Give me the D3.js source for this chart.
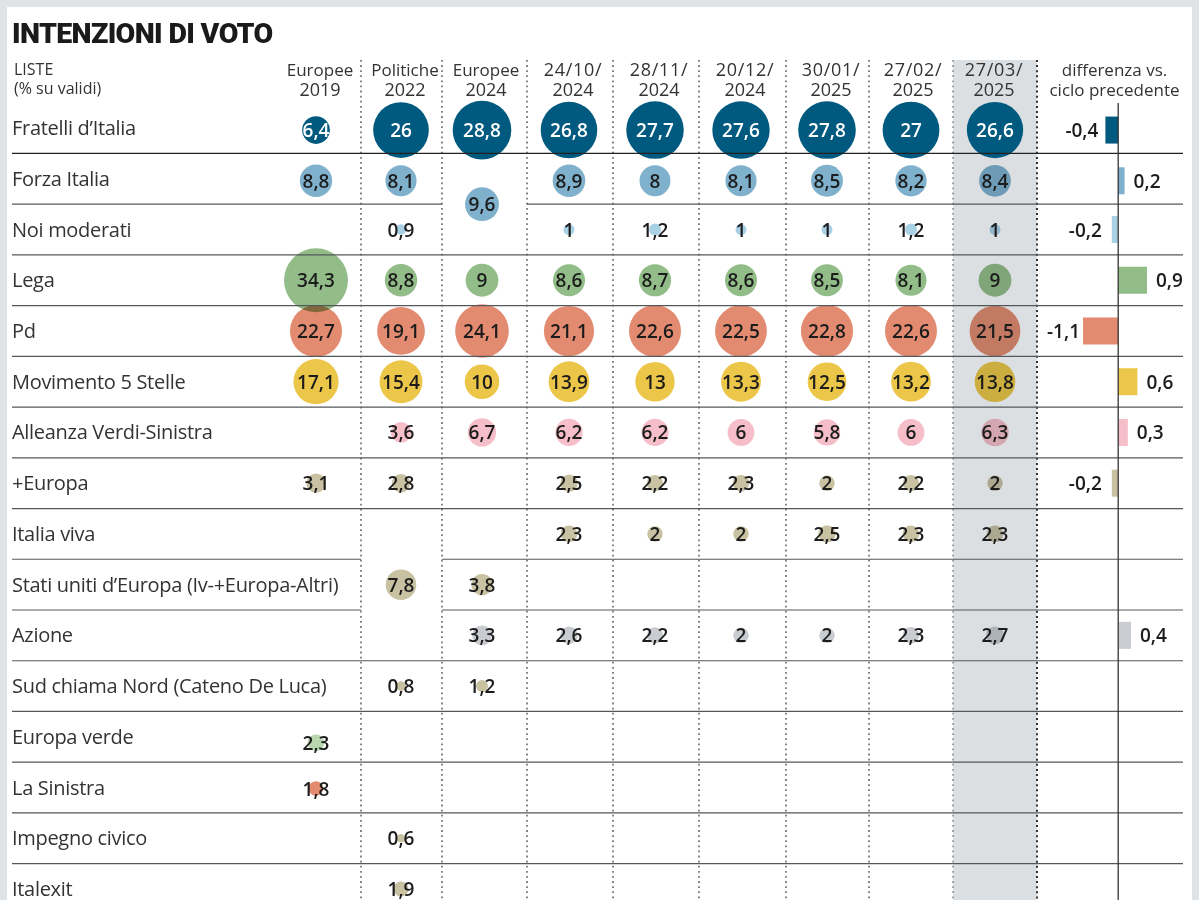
<!DOCTYPE html>
<html>
<head>
<meta charset="utf-8">
<script src="https://cdn.jsdelivr.net/npm/d3@7"></script>
<style>
  html, body { margin: 0; padding: 0; background: #fff; overflow: hidden; }
  svg { display: block; font-family: "Open Sans", sans-serif; }
</style>
</head>
<body>
<script>
var width = 1200;
var height = 900;

// data
var columns = ["Europee 2019", "Politiche 2022", "Europee 2024", "24/10/ 2024", "28/11/ 2024",
               "20/12/ 2024", "30/01/ 2025", "27/02/ 2025", "27/03/ 2025"];

var lists = ["Fratelli d’Italia", "Forza Italia", "Noi moderati", "Lega", "Pd", "Movimento 5 Stelle",
             "Alleanza Verdi-Sinistra", "+Europa", "Italia viva", "Stati uniti d’Europa (Iv-+Europa-Altri)",
             "Azione", "Sud chiama Nord (Cateno De Luca)", "Europa verde", "La Sinistra", "Impegno civico", "Italexit"];

var fdi     = [6.4, 26, 28.8, 26.8, 27.7, 27.6, 27.8, 27, 26.6];
var fi      = [8.8, 8.1, null, 8.9, 8, 8.1, 8.5, 8.2, 8.4];
var noi     = [null, 0.9, null, 1, 1.2, 1, 1, 1.2, 1];
var lega    = [34.3, 8.8, 9, 8.6, 8.7, 8.6, 8.5, 8.1, 9];
var pd      = [22.7, 19.1, 24.1, 21.1, 22.6, 22.5, 22.8, 22.6, 21.5];
var m5s     = [17.1, 15.4, 10, 13.9, 13, 13.3, 12.5, 13.2, 13.8];
var avs     = [null, 3.6, 6.7, 6.2, 6.2, 6, 5.8, 6, 6.3];
var europa  = [3.1, 2.8, null, 2.5, 2.2, 2.3, 2, 2.2, 2];
var iv      = [null, null, null, 2.3, 2, 2, 2.5, 2.3, 2.3];
var sue     = [null, null, 3.8, null, null, null, null, null, null];
var azione  = [null, null, 3.3, 2.6, 2.2, 2, 2, 2.3, 2.7];
var sud     = [null, 0.8, 1.2, null, null, null, null, null, null];
var verde   = [2.3, null, null, null, null, null, null, null, null];
var sin     = [1.8, null, null, null, null, null, null, null, null];
var civico  = [null, 0.6, null, null, null, null, null, null, null];
var italexit = [null, 1.9, null, null, null, null, null, null, null];
var table = [fdi, fi, noi, lega, pd, m5s, avs, europa, iv, sue, azione, sud, verde, sin, civico, italexit];

var differences = [-0.4, 0.2, -0.2, 0.9, -1.1, 0.6, 0.3, -0.2, null, null, 0.4, null, null, null, null, null];

// cells shared by more than one list: [first list, last list, column, value]
var mergedFirst = [1, 8];
var mergedLast = [2, 10];
var mergedColumn = [2, 1];
var mergedValue = [9.6, 7.8];
var mergedColor = ["#7fb1cc", "#c9c2a2"];

var darkBlue = "#005a7f";
var listColors = [darkBlue, "#7fb1cc", "#a9d1e6", "#93bd88", "#e28b70", "#ecc648", "#f6bec9", "#c9c2a2",
                  "#c9c2a2", "#c9c2a2", "#c9ccd0", "#c9c2a2", "#b8d6af", "#e28b70", "#c9c2a2", "#c9c2a2"];
var barColors = [darkBlue, "#7fb1cc", "#a9d1e6", "#93bd88", "#e28b70", "#ecc648", "#f6bec9", "#c9c2a2",
                 null, null, "#c9ccd0", null, null, null, null, null];

var svg = d3.select("body").append("svg")
  .attr("width", width)
  .attr("height", height);

// scales
var xScale = d3.scaleOrdinal().domain(columns).range([316, 401, 482, 569, 655, 741, 827, 911, 995]);
var xHead = d3.scaleOrdinal().domain(columns).range([320, 405, 486, 573, 659, 745, 831, 913, 994]);
var yScale = d3.scaleBand().domain(lists).range([102.7, 102.7 + 16 * 50.73]);
var rScale = d3.scaleSqrt().domain([0, 34.3]).range([0, 32]);
var barScale = d3.scaleLinear().domain([-1.1, 0.9]).range([1083, 1147]);

var rowNudge = {"Fratelli d’Italia": 2, "Forza Italia": 2, "Europa verde": 6, "La Sinistra": 1};

function rowCenter(name) {
    return yScale(name) + yScale.bandwidth() / 2;
}
function cellY(name) {
    return rowCenter(name) + (rowNudge[name] || 0);
}
function comma(v) {
    return String(v).replace(".", ",");
}

// frame
svg.append("rect").attr("x", 3.5).attr("y", 3.5).attr("width", 1192).attr("height", 1000)
  .attr("fill", "none").attr("stroke", "#e0e3e6").attr("stroke-width", 7);

// highlighted column
svg.append("rect").attr("x", 953).attr("y", 60).attr("width", 84).attr("height", 840).attr("fill", "#dcdfe2");

// title and left header
svg.append("text").attr("x", 12).attr("y", 43)
  .attr("font-family", "Roboto").attr("font-weight", 900).attr("font-size", 28.5).attr("letter-spacing", -0.65)
  .attr("fill", "#1a1a1a").text("INTENZIONI DI VOTO");
svg.append("text").attr("x", 14).attr("y", 75).attr("font-size", 16).attr("fill", "#333").text("LISTE");
svg.append("text").attr("x", 14).attr("y", 94).attr("font-size", 16).attr("fill", "#333").text("(% su validi)");

// column headers
var heads = svg.selectAll(".head").data(columns).enter().append("g").attr("class", "head");
[0, 1].forEach(function(line) {
    heads.append("text")
      .attr("x", function(d) { return xHead(d); })
      .attr("y", 76 + line * 19.7)
      .attr("text-anchor", "middle")
      .attr("font-size", function(d) { return /^[A-Z]/.test(d.split(" ")[line]) ? 17 : 18; })
      .attr("letter-spacing", function(d) { return d.split(" ")[line].indexOf("/") > -1 ? 0.7 : 0; })
      .attr("fill", "#333")
      .text(function(d) { return d.split(" ")[line]; });
});
var diffHead = ["differenza vs.", "ciclo precedente"];
svg.selectAll(".diffhead").data(diffHead).enter().append("text")
  .attr("class", "diffhead")
  .attr("x", 1114.5)
  .attr("y", function(d, i) { return 76 + i * 19.7; })
  .attr("text-anchor", "middle")
  .attr("font-size", 17)
  .attr("fill", "#333")
  .text(function(d) { return d; });

// dotted column separators
var separators = [361, 442, 527, 613, 699, 786, 869];
svg.selectAll(".sep").data(separators).enter().append("line")
  .attr("class", "sep")
  .attr("x1", function(d) { return d; })
  .attr("x2", function(d) { return d; })
  .attr("y1", 60)
  .attr("y2", height)
  .attr("stroke", "#444")
  .attr("stroke-width", 1.3)
  .attr("stroke-dasharray", "1.8 3.3");
svg.append("line").attr("x1", 953).attr("x2", 953).attr("y1", 60).attr("y2", height)
  .attr("stroke", "#777").attr("stroke-width", 1.3).attr("stroke-dasharray", "1.8 3.3");
svg.append("line").attr("x1", 1037).attr("x2", 1037).attr("y1", 60).attr("y2", height)
  .attr("stroke", "#333").attr("stroke-width", 2).attr("stroke-dasharray", "2 3.1");

// cells
var cells = [];
table.forEach(function(row, r) {
    row.forEach(function(v, c) {
        if (v != null) {
            cells.push({value: v, col: columns[c], y: cellY(lists[r]), color: listColors[r]});
        }
    });
});
mergedValue.forEach(function(v, m) {
    var y = (rowCenter(lists[mergedFirst[m]]) + rowCenter(lists[mergedLast[m]])) / 2;
    cells.push({value: v, col: columns[mergedColumn[m]], y: y, color: mergedColor[m]});
});

svg.selectAll(".dot").data(cells).enter().append("circle")
  .attr("class", "dot")
  .attr("cx", function(d) { return xScale(d.col); })
  .attr("cy", function(d) { return d.y; })
  .attr("r", function(d) { return rScale(d.value); })
  .attr("fill", function(d) { return d.color; })
  .style("mix-blend-mode", function(d) { return d.color == darkBlue ? "normal" : "multiply"; });

// row rules, with gaps where a cell is merged
var rules = [];
lists.slice(0, -1).forEach(function(name, i) {
    var y = yScale(name) + yScale.bandwidth();
    var gap = null;
    mergedFirst.forEach(function(first, m) {
        if (i >= first && i < mergedLast[m]) {
            gap = mergedColumn[m] == 2 ? [442, 527] : [361, 442];
        }
    });
    if (gap) {
        rules.push({x1: 12, x2: gap[0], y: y, i: i});
        rules.push({x1: gap[1], x2: 1183, y: y, i: i});
    } else {
        rules.push({x1: 12, x2: 1183, y: y, i: i});
    }
});
svg.selectAll(".rule").data(rules).enter().append("line")
  .attr("class", "rule")
  .attr("x1", function(d) { return d.x1; })
  .attr("x2", function(d) { return d.x2; })
  .attr("y1", function(d) { return d.y; })
  .attr("y2", function(d) { return d.y; })
  .attr("stroke", function(d) { return d.i == 0 ? "#222" : "#55585b"; })
  .attr("stroke-width", 1.2);

svg.selectAll(".val").data(cells).enter().append("text")
  .attr("class", "val")
  .attr("x", function(d) { return xScale(d.col); })
  .attr("y", function(d) { return d.y; })
  .attr("dy", ".37em")
  .attr("text-anchor", "middle")
  .attr("font-size", 19)
  .attr("font-weight", 600)
  .attr("fill", function(d) { return d.color == darkBlue ? "#fff" : "#1c1c1c"; })
  .text(function(d) { return comma(d.value); });

// list names
svg.selectAll(".list").data(lists).enter().append("text")
  .attr("class", "list")
  .attr("x", 12)
  .attr("y", rowCenter)
  .attr("dy", ".35em")
  .attr("font-size", 20)
  .attr("letter-spacing", -0.3)
  .attr("fill", "#333")
  .text(function(d) { return d; });

// zero line of the differences
svg.append("line").attr("x1", barScale(0)).attr("x2", barScale(0)).attr("y1", 103).attr("y2", height)
  .attr("stroke", "#333").attr("stroke-width", 1.3);

// difference bars
var diffs = [];
differences.forEach(function(v, i) {
    if (v != null) { diffs.push({value: v, name: lists[i], color: barColors[i]}); }
});
var barHeight = 27;

svg.selectAll(".bar").data(diffs).enter().insert("rect", "line:last-of-type")
  .attr("class", "bar")
  .attr("x", function(d) { return Math.min(barScale(0), barScale(d.value)); })
  .attr("width", function(d) { return Math.abs(barScale(d.value) - barScale(0)); })
  .attr("y", function(d) { return cellY(d.name) - barHeight / 2; })
  .attr("height", barHeight)
  .attr("fill", function(d) { return d.color; });

function labelGap(v) {
    if (v > 0) return 9;
    if (v < -1) return -3;
    return v == -0.2 ? -10 : -7;
}

svg.selectAll(".difflabel").data(diffs).enter().append("text")
  .attr("class", "difflabel")
  .attr("x", function(d) { return barScale(d.value) + labelGap(d.value); })
  .attr("y", function(d) { return cellY(d.name); })
  .attr("dy", ".37em")
  .attr("text-anchor", function(d) { return d.value < 0 ? "end" : "start"; })
  .attr("font-size", 19)
  .attr("font-weight", 600)
  .attr("fill", "#1c1c1c")
  .text(function(d) { return comma(d.value); });
</script>
</body>
</html>
